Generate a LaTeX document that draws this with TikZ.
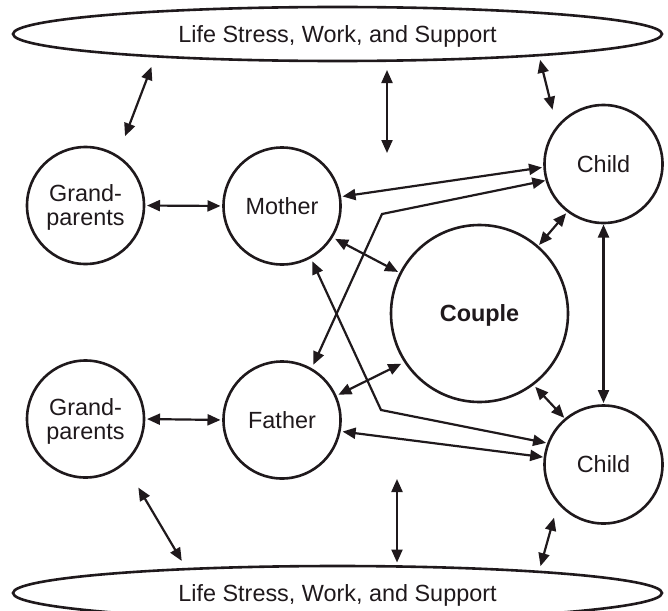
\documentclass[tikz,border=0pt]{standalone}
\usepackage{fontspec}
\setmainfont{Liberation Sans}
\usetikzlibrary{arrows.meta,shapes.geometric}
\definecolor{ink}{rgb}{0.12,0.1,0.11}

\begin{document}
\begin{tikzpicture}[x=1pt,y=-1pt,
  every node/.style={font=\fontsize{23.4}{24}\selectfont, text=ink,
    text depth=0pt, inner sep=0pt, outer sep=0pt},
  person/.style={circle, draw=ink, line width=2.6pt, minimum size=117pt, align=center},
  lifebox/.style={ellipse, draw=ink, line width=2.6pt, minimum width=649pt, minimum height=54pt},
  >={Triangle[length=13pt,width=11pt]},
  link/.style={<->, draw=ink, line width=2.2pt}]

\useasboundingbox[fill=white] (0,0) rectangle (668,610);

% outer context
\node[lifebox] (top) at (337.5,34) {Life Stress, Work, and Support};
\node[lifebox] (bot) at (337.5,593) {Life Stress, Work, and Support};

% family members
\node[person] (gpa) at (85.5,205.5) {Grand-\\parents};
\node[person] (mother) at (282,206) {Mother};
\node[person, minimum size=118pt] (childa) at (603.5,164) {Child};
\node[person, minimum size=177pt, font=\fontsize{23.4}{24}\selectfont\bfseries] (couple) at (479.5,313.5) {Couple};
\node[person] (gpb) at (85.5,419) {Grand-\\parents};
\node[person] (father) at (282,420) {Father};
\node[person, minimum size=118pt] (childb) at (603.5,464.5) {Child};

% free ends and bends
\coordinate (famtop) at (387,153);
\coordinate (fambot) at (397,479);
\coordinate (bendf) at (382,214);
\coordinate (bendm) at (381,410);

% links to the outer context
\draw[link, shorten <=21.6pt, shorten >=11.3pt] (gpa.57.8) -- (top.187.9);
\draw[link, shorten >=9pt] (famtop) -- (top.south -| famtop);
\draw[link, shorten <=18.5pt, shorten >=4.8pt] (childa.142) -- (top.-6.2);
\draw[link, shorten <=28.4pt, shorten >=9.5pt] (gpb.-49.6) -- (bot.171.3);
\draw[link, shorten >=3.5pt] (fambot) -- (bot.north -| fambot);
\draw[link, shorten <=15.8pt, shorten >=5.9pt] (childb.-140.6) -- (bot.6.2);

% links within the family
\draw[link, shorten <=3pt, shorten >=3pt] (gpa.east) -- (mother.west);
\draw[link, shorten <=3pt, shorten >=3pt] (gpb.east) -- (father.west);
\draw[link, shorten <=2.8pt, shorten >=2.6pt] (mother.9.3) -- (childa.183.7);
\draw[link, shorten <=3.2pt, shorten >=1.8pt] (father.-11.3) -- (childb.173.9);
\draw[link, shorten <=5.1pt, shorten >=1.5pt] (father.60.6) -- (bendf) -- (childa.196.5);
\draw[link, shorten <=4.5pt, shorten >=2.4pt] (mother.-61.8) -- (bendm) -- (childb.159.5);
\draw[link, shorten <=4pt, shorten >=3pt] (mother.-32.7) -- (couple.153);
\draw[link, shorten <=3.3pt, shorten >=4.5pt] (father.24) -- (couple.213.6);
\draw[link, shorten <=2.3pt, shorten >=2.9pt] (couple.49.9) -- (childa.233.9);
\draw[link, shorten <=3.6pt, shorten >=2pt] (couple.-53) -- (childb.130.3);
\draw[link, shorten <=1.5pt, shorten >=2.5pt] (childa.south) -- (childb.north);
\end{tikzpicture}
\end{document}
